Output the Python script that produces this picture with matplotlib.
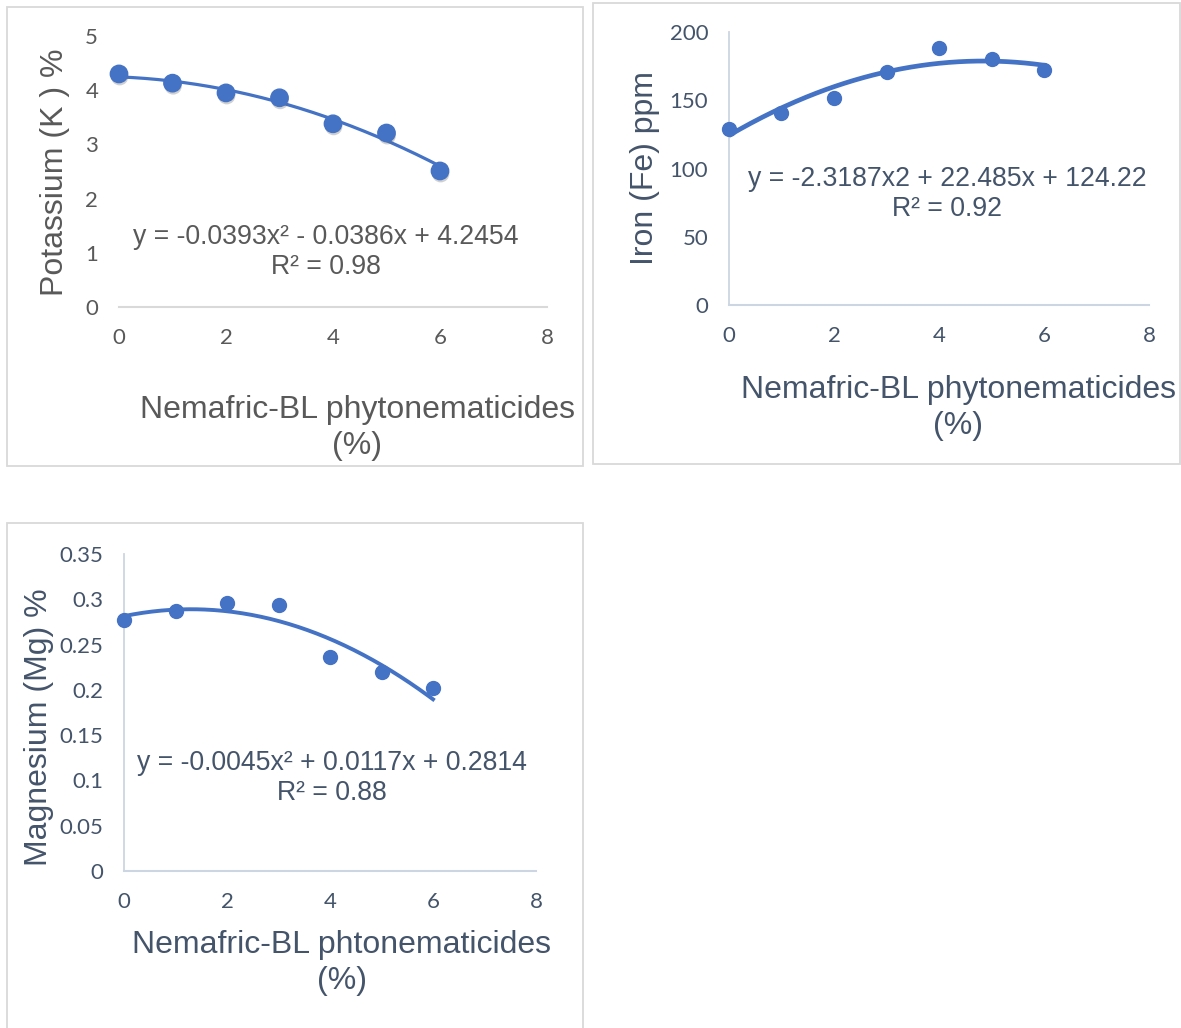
import numpy as np
import matplotlib
matplotlib.use("Agg")
import matplotlib.pyplot as plt
import matplotlib.patheffects as pe
from matplotlib.patches import Rectangle

# ---------------- data ----------------
doses = [0, 1, 2, 3, 4, 5, 6]
potassium = [4.30, 4.13, 3.95, 3.86, 3.38, 3.21, 2.51]
iron = [129, 141, 152, 171, 188, 180, 172]
magnesium = [0.277, 0.287, 0.296, 0.294, 0.236, 0.220, 0.202]

k_coef = [-0.0393, -0.0386, 4.2454]
fe_coef = [-2.3187, 22.485, 124.22]
mg_coef = [-0.0045, 0.0117, 0.2814]

k_eq = "y = -0.0393x² - 0.0386x + 4.2454\nR² = 0.98"
fe_eq = "y = -2.3187x2 + 22.485x + 124.22\nR² = 0.92"
mg_eq = "y = -0.0045x² + 0.0117x + 0.2814\nR² = 0.88"

k_yticks = [0, 1, 2, 3, 4, 5]
fe_yticks = [0, 50, 100, 150, 200]
mg_yticks = [0, 0.05, 0.1, 0.15, 0.2, 0.25, 0.3, 0.35]
mg_ytick_labels = ["0", "0.05", "0.1", "0.15", "0.2", "0.25", "0.3", "0.35"]
xticks = [0, 2, 4, 6, 8]

# ---------------- layout ----------------
W, H = 1181, 1028
fig = plt.figure(figsize=(W / 100, H / 100), dpi=100)

BLUE = "#4472C4"
GRAY_TXT = "#595959"
SLATE = "#44546A"
AXLINE = "#CDD5E2"
BORDER = "#D9D9D9"
TICKFONT = "Lato"
LABFONT = "Liberation Sans"
TICKSIZE = 16
LABSIZE = 23
EQSIZE = 19.2


def px_axes(x0, x1, ytop, ybot):
    return fig.add_axes([x0 / W, 1 - ybot / H, (x1 - x0) / W, (ybot - ytop) / H])


def border(x0, y0, x1, y1):
    fig.patches.append(Rectangle((x0 / W, 1 - y1 / H), (x1 - x0) / W, (y1 - y0) / H,
                                 transform=fig.transFigure, fill=False,
                                 edgecolor=BORDER, lw=1.3))


def style(ax, ylim, yticks, ylabels, txtcol, left_spine):
    ax.set_xlim(0, 8)
    ax.set_ylim(*ylim)
    ax.set_xticks(xticks)
    ax.set_yticks(yticks)
    ax.set_yticklabels(ylabels)
    ax.patch.set_alpha(0)
    for s in ["top", "right"]:
        ax.spines[s].set_visible(False)
    ax.spines["left"].set_visible(left_spine)
    ax.spines["left"].set_color(AXLINE)
    ax.spines["bottom"].set_color(AXLINE if left_spine else BORDER)
    ax.spines["left"].set_linewidth(1.3)
    ax.spines["bottom"].set_linewidth(1.5)
    ax.tick_params(length=0, labelsize=TICKSIZE, colors=txtcol, pad=15)
    for lab in ax.get_xticklabels() + ax.get_yticklabels():
        lab.set_family(TICKFONT)
        lab.set_color(txtcol)


xs = np.linspace(0, 6, 200)

# --- Potassium ---
border(7, 7, 583, 466)
ax1 = px_axes(119, 547, 36, 307)
style(ax1, (0, 5), k_yticks, [str(v) for v in k_yticks], GRAY_TXT, False)
ax1.plot(xs, np.polyval(k_coef, xs), color=BLUE, lw=2.3, zorder=2)
ax1.plot(doses, potassium, "o", color=BLUE, ms=12.5, zorder=3, clip_on=False,
         path_effects=[pe.SimplePatchShadow(offset=(0.5, -2.0), shadow_rgbFace="#666666", alpha=0.3),
                       pe.Normal()])
fig.text(55 / W, 1 - 172 / H, "Potassium (K ) %", rotation=90, ha="center", va="center",
         fontsize=LABSIZE, family=LABFONT, color=GRAY_TXT)
fig.text(357 / W, 1 - 428 / H, "Nemafric-BL phytonematicides\n(%)", ha="center", va="center",
         fontsize=LABSIZE, family=LABFONT, color=GRAY_TXT, linespacing=1.22)
fig.text(326 / W, 1 - 252 / H, k_eq, ha="center", va="center", fontsize=EQSIZE,
         family=LABFONT, color=GRAY_TXT, linespacing=1.2)

# --- Iron ---
border(593, 3, 1180, 464)
ax2 = px_axes(729, 1149, 32, 305)
style(ax2, (0, 200), fe_yticks, [str(v) for v in fe_yticks], SLATE, True)
ax2.plot(xs, np.polyval(fe_coef, xs), color=BLUE, lw=3.4, zorder=2)
ax2.plot(doses, iron, "o", color=BLUE, ms=10, zorder=3, clip_on=False)
fig.text(645 / W, 1 - 168 / H, "Iron (Fe) ppm", rotation=90, ha="center", va="center",
         fontsize=LABSIZE, family=LABFONT, color=SLATE)
fig.text(958 / W, 1 - 408 / H, "Nemafric-BL phytonematicides\n(%)", ha="center", va="center",
         fontsize=LABSIZE, family=LABFONT, color=SLATE, linespacing=1.22)
fig.text(947 / W, 1 - 194 / H, fe_eq, ha="center", va="center", fontsize=EQSIZE,
         family=LABFONT, color=SLATE, linespacing=1.2)

# --- Magnesium ---
border(7, 523, 583, 1040)
ax3 = px_axes(124, 536, 554, 871)
style(ax3, (0, 0.35), mg_yticks, mg_ytick_labels, SLATE, True)
ax3.plot(xs, np.polyval(mg_coef, xs), color=BLUE, lw=2.8, zorder=2)
ax3.plot(doses, magnesium, "o", color=BLUE, ms=10, zorder=3, clip_on=False)
fig.text(39 / W, 1 - 727 / H, "Magnesium (Mg) %", rotation=90, ha="center", va="center",
         fontsize=LABSIZE, family=LABFONT, color=SLATE)
fig.text(342 / W, 1 - 963 / H, "Nemafric-BL phtonematicides\n(%)", ha="center", va="center",
         fontsize=LABSIZE, family=LABFONT, color=SLATE, linespacing=1.22)
fig.text(332 / W, 1 - 778 / H, mg_eq, ha="center", va="center", fontsize=EQSIZE,
         family=LABFONT, color=SLATE, linespacing=1.2)

fig.savefig("out.png", dpi=100, facecolor="white")
